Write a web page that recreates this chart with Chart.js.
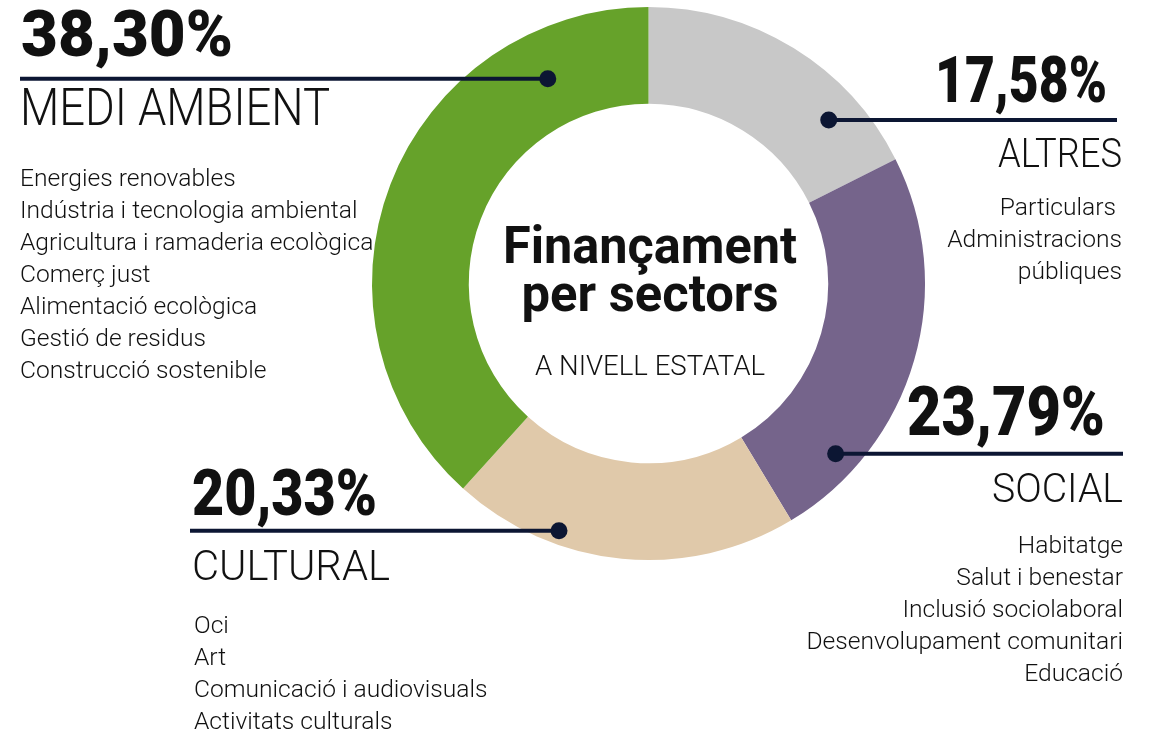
<!DOCTYPE html>
<html>
<head>
<meta charset="utf-8">
<script src="https://cdn.jsdelivr.net/npm/chart.js@4.4.1/dist/chart.umd.min.js"></script>
<style>
  html, body { margin: 0; background: #fff; }
  canvas { display: block; }
</style>
</head>
<body>
<canvas id="sectors-chart" width="1150" height="732"></canvas>
<script>
// data
const sectors = ['ALTRES', 'SOCIAL', 'CULTURAL', 'MEDI AMBIENT'];
const shares = [17.58, 23.79, 20.33, 38.30];
const shareLabels = ['17,58%', '23,79%', '20,33%', '38,30%'];
const subsectors = [
  ['Particulars ', 'Administracions', 'públiques'],
  ['Habitatge', 'Salut i benestar', 'Inclusió sociolaboral', 'Desenvolupament comunitari', 'Educació'],
  ['Oci', 'Art', 'Comunicació i audiovisuals', 'Activitats culturals'],
  ['Energies renovables', 'Indústria i tecnologia ambiental', 'Agricultura i ramaderia ecològica',
   'Comerç just', 'Alimentació ecològica', 'Gestió de residus', 'Construcció sostenible']
];

const colors = ['#c8c8c8', '#75648b', '#e0c9aa', '#66a22a'];
const ink = '#111111';
const lineColor = '#0c1633';

// where each callout sits (pixels), kept apart from the data
const callouts = [
  { align: 'right', pctX: 1107, pctY: 102, pctSize: 64, pctW: 172,
    dotAngle: 47.8, dotR: 0.88, lineTo: 1117,
    nameX: 1122, nameY: 167, nameSize: 41, nameW: 124,
    listX: 1122, listY: 215 },
  { align: 'right', pctX: 1105, pctY: 435, pctSize: 68, pctW: 198,
    dotAngle: 132.3, dotR: 0.915, lineTo: 1123,
    nameX: 1123, nameY: 502, nameSize: 40, nameW: 131,
    listX: 1123, listY: 553 },
  { align: 'left', pctX: 192, pctY: 515, pctSize: 64, pctW: 185,
    dotAngle: 199.9, dotR: 0.951, lineTo: 190,
    nameX: 192, nameY: 580, nameSize: 43, nameW: 198,
    listX: 194, listY: 633 },
  { align: 'left', pctX: 21, pctY: 56, pctSize: 64, pctW: 212,
    dotAngle: 333.8, dotR: 0.825, lineTo: 20,
    nameX: 20, nameY: 125, nameSize: 52, nameW: 310,
    listX: 20, listY: 186 }
];

function drawText(ctx, s, x, y, font, align, width) {
  ctx.save();
  ctx.font = font;
  ctx.textAlign = 'left';
  ctx.textBaseline = 'alphabetic';
  let w = ctx.measureText(s).width;
  let sx = width ? width / w : 1;
  let drawn = w * sx;
  let left = align === 'right' ? x - drawn : align === 'center' ? x - drawn / 2 : x;
  ctx.translate(left, y);
  ctx.scale(sx, 1);
  ctx.fillText(s, 0, 0);
  ctx.restore();
}

const calloutPlugin = {
  id: 'callouts',
  afterDraw(chart) {
    const ctx = chart.ctx;
    const arc = chart.getDatasetMeta(0).data[0];
    const cx = arc.x, cy = arc.y, R = arc.outerRadius;

    ctx.save();
    ctx.fillStyle = ink;

    // centre title
    drawText(ctx, 'Finançament', cx + 1.5, 263, 'bold 52px Roboto', 'center', 294);
    drawText(ctx, 'per sectors', cx + 1.5, 311, 'bold 52px Roboto', 'center', 257);
    drawText(ctx, 'A NIVELL ESTATAL', cx + 1.5, 375, '300 28px Roboto', 'center', 230);

    callouts.forEach((c, i) => {
      const a = c.dotAngle * Math.PI / 180;
      const dx = cx + Math.sin(a) * R * c.dotR;
      const dy = cy - Math.cos(a) * R * c.dotR;

      ctx.strokeStyle = lineColor;
      ctx.lineWidth = 4;
      ctx.beginPath();
      ctx.moveTo(dx, dy);
      ctx.lineTo(c.lineTo, dy);
      ctx.stroke();

      ctx.fillStyle = lineColor;
      ctx.beginPath();
      ctx.arc(dx, dy, 8.5, 0, Math.PI * 2);
      ctx.fill();

      ctx.fillStyle = ink;
      drawText(ctx, shareLabels[i], c.pctX, c.pctY, '900 ' + c.pctSize + 'px Roboto', c.align, c.pctW);
      drawText(ctx, sectors[i], c.nameX, c.nameY, '300 ' + c.nameSize + 'px Roboto', c.align, c.nameW);
      subsectors[i].forEach((s, j) => {
        drawText(ctx, s, c.listX, c.listY + j * 32, '300 24.6px Roboto', c.align);
      });
    });
    ctx.restore();
  }
};

function init() {
  new Chart(document.getElementById('sectors-chart'), {
    type: 'doughnut',
    data: {
      labels: sectors,
      datasets: [{
        data: shares,
        backgroundColor: colors,
        borderWidth: 0,
        hoverOffset: 0,
        offset: 0
      }]
    },
    options: {
      responsive: false,
      animation: false,
      cutout: '65%',
      layout: { padding: { left: 372, right: 225, top: 7, bottom: 172 } },
      plugins: {
        legend: { display: false },
        tooltip: { enabled: false }
      }
    },
    plugins: [calloutPlugin]
  });
}

Promise.all([
  document.fonts.load('300 25px Roboto'),
  document.fonts.load('bold 52px Roboto'),
  document.fonts.load('900 64px Roboto')
]).then(init, init);
</script>
</body>
</html>
